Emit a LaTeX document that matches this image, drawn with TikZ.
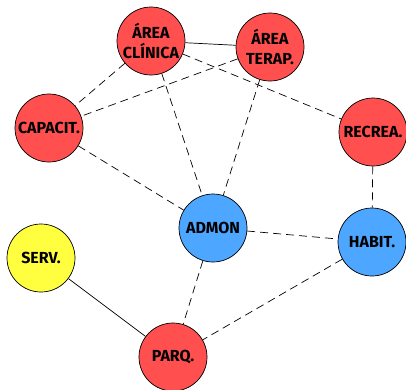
\documentclass[tikz,border=0pt]{standalone}
\usepackage{fontspec}
\setmainfont{Fira Sans}
\usepackage{tikz}
\usepackage{xcolor}
\definecolor{zonared}{HTML}{FF4F4F}
\definecolor{zoneblue}{HTML}{4DA6FF}
\definecolor{zoneyellow}{HTML}{FFFF40}

\begin{document}
\begin{tikzpicture}[
    x=1pt, y=-1pt,
    zone/.style={circle, draw, line width=0.7pt, minimum size=68pt, inner sep=0pt, align=center,
                 font=\fontsize{16}{20}\selectfont\bfseries},
    link/.style={line width=0.7pt, dash pattern=on 8pt off 5pt},
    firm/.style={line width=0.7pt}
]
\useasboundingbox (0,0) rectangle (406,389);

\node[zone, fill=zonared] (clin) at (151,41) {ÁREA\\CLÍNICA};
\node[zone, fill=zonared] (terap) at (270,47) {ÁREA\\TERAP.};
\node[zone, fill=zonared] (capac) at (49,128) {CAPACIT.};
\node[zone, fill=zonared] (recrea) at (373,132) {RECREA.};
\node[zone, fill=zoneblue] (admon) at (213,228) {ADMON};
\node[zone, fill=zoneblue] (habit) at (372,242) {HABIT.};
\node[zone, fill=zoneyellow] (serv) at (41,258) {SERV.};
\node[zone, fill=zonared] (parq) at (173,357) {PARQ.};

\draw[firm] (clin) -- (terap);
\draw[link] (clin) -- (capac);
\draw[link] (clin) -- (admon);
\draw[link] (clin) -- (recrea);
\draw[link] (terap) -- (capac);
\draw[link] (terap) -- (admon);
\draw[link] (capac) -- (admon);
\draw[link] (recrea) -- (habit);
\draw[link] (admon) -- (habit);
\draw[link] (admon) -- (parq);
\draw[link] (habit) -- (parq);
\draw[firm] (serv) -- (parq);
\end{tikzpicture}
\end{document}
